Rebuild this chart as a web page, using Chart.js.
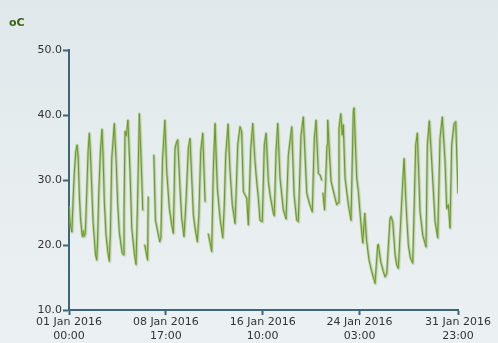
<!DOCTYPE html>
<html>
<head>
<meta charset="utf-8">
<script src="https://cdn.jsdelivr.net/npm/chart.js@4/dist/chart.umd.min.js"></script>
<style>
	html, body { margin: 0; padding: 0; }
	body { width: 498px; height: 343px; overflow: hidden; background: linear-gradient(to bottom, #e0e8eb 0%, #e8eef0 60%, #ebf0f2 100%); }
	canvas { display: block; }
</style>
</head>
<body>
<canvas id="grafico" width="498" height="343"></canvas>
<script>
/* Horas desde el 01 Jan 2016 00:00 y temperatura (oC); null = sin datos */
const horas = [
	0, 2, 5.5, 8, 10, 13, 15.3, 17.5, 19.7, 22,
	25.4, 27.5, 29, 31.1, 33.8, 36.5, 38.8, 41, 43.9, 46,
	48.3, 50.5, 52.9, 54.5, 56.7, 60, 63, 65, 67.4, 70.7,
	74, 77, 79, 81.6, 86.5, 89.8, 93, 96, 99.3, 101.5,
	103.7, 105, 107, 109.5, 112.5, 116.5, 119.8, 124.7, 128, 131,
	134.3, 137.5, 140.8, 142.5, 144.6, 150, 151.3, 155, 162, 165,
	170, 173.3, 175.5, 178.5, 183, 186.6, 191.6, 196.1, 199.2, 202.5,
	205.7, 207.6, 212, 215.2, 219.6, 223, 227.9, 231.1, 234, 237.5,
	240.7, 245.1, 248, 251.5, 255.4, 259.8, 263, 266.1, 272.5, 275.5,
	278.9, 283.3, 288.4, 293.6, 296.5, 299.3, 303.7, 307.5, 311.9, 317.1,
	322.2, 326.6, 329.8, 333, 336.2, 339.4, 342.5, 347.1, 350.9, 355,
	358.5, 361.6, 364.8, 369.2, 373, 376.3, 380.7, 383.9, 390.2, 392.1,
	395.4, 398.6, 403, 409.3, 414.5, 418.9, 425.4, 429.8, 434.9, 438,
	443.1, 447.5, 454, 459, 464.7, 468.5, 471.8, 476.2, 479.4, 482.5,
	484, 485, 488, 492.8, 494.1, 500.4, 506.7, 511.3, 514, 515.7,
	519, 522, 523.9, 527.2, 533.5, 538.6, 543, 544.4, 549.5, 552.6,
	557.2, 561, 564.8, 568.6, 573, 578.2, 584.5, 589.6, 590.8, 595.4,
	600.4, 603.6, 606.8, 613.1, 615, 618.3, 622.7, 625.9, 629, 637.4,
	639.9, 643.7, 648.1, 652, 656.5, 662.2, 665.3, 670.4, 675.6, 681.9,
	684.4, 688.2, 692.8, 699.1, 704.2, 708.6, 713, 718.2, 721.4, 724.5,
	727.7, 730.9, 735.4, 738.6, 743
];
const temperaturas = [
	25.8, 23.5, 22.0, 27.5, 31.0, 34.5, 35.4, 33.5, 27.7, 24.0,
	21.3, 22.2, 21.3, 21.8, 28.0, 34.5, 37.2, 34.0, 27.7, 23.5,
	21.0, 18.5, 17.7, 20.5, 27.7, 34.5, 37.8, 34.0, 26.7, 21.5,
	19.0, 17.5, 22.0, 33.3, 38.7, 33.3, 26.2, 22.0, 20.0, 18.8,
	18.5, 25.0, 37.5, 36.8, 39.2, 31.3, 22.6, 18.7, 17.0, 27.0,
	40.2, 33.8, 25.4, null, 20.0, 17.7, 27.4, null, 33.8, 23.8,
	21.8, 20.5, 21.2, 33.0, 39.2, 31.3, 25.6, 23.1, 21.8, 34.9,
	35.9, 36.2, 28.7, 24.1, 21.3, 26.0, 34.9, 36.4, 31.0, 24.6,
	22.6, 20.5, 24.5, 34.4, 37.2, 26.7, null, 21.7, 19.0, 31.3,
	38.7, 28.7, 24.1, 21.1, 26.0, 33.8, 38.6, 31.3, 26.2, 23.3,
	35.4, 38.2, 37.4, 28.2, 27.7, 27.2, 23.1, 34.9, 38.7, 33.0,
	29.7, 27.2, 23.8, 23.6, 35.4, 37.2, 29.8, 27.7, 24.9, 24.5,
	34.4, 38.7, 30.3, 25.4, 24.0, 33.8, 38.2, 27.7, 23.8, 23.6,
	36.9, 39.7, 28.0, 26.4, 25.1, 36.4, 39.2, 31.0, 30.8, 30.0,
	null, 28.0, 25.4, 35.4, 39.2, 29.8, 27.7, 26.2, 26.5, 38.0,
	40.2, 36.9, 38.5, 30.3, 26.2, 23.8, 40.5, 41.1, 30.3, 28.2,
	23.6, 20.3, 24.9, 20.5, 17.7, 15.9, 14.1, 20.0, 20.1, 17.4,
	15.9, 15.1, 15.6, 24.1, 24.4, 23.6, 18.5, 16.9, 16.4, 29.8,
	33.3, 26.2, 20.0, 18.0, 17.2, 35.4, 37.2, 25.1, 21.5, 19.7,
	35.4, 39.1, 32.8, 23.6, 21.1, 36.4, 39.7, 32.8, 25.6, 26.2,
	22.6, 35.4, 38.7, 39.0, 28.0
];
/* Marcas del eje X */
const marcasX = [0, 185, 370, 555, 743];
const etiquetasX = [
	['01 Jan 2016', '00:00'],
	['08 Jan 2016', '17:00'],
	['16 Jan 2016', '10:00'],
	['24 Jan 2016', '03:00'],
	['31 Jan 2016', '23:00']
];

const colorEje = '#3e6676';
const fuente = { family: 'DejaVu Sans', size: 11, lineHeight: 1.2 };

let puntos = [];
for (let i = 0; i < horas.length; i++) {
	puntos.push({ x: horas[i], y: temperaturas[i] });
}

/* sombra gris debajo del trazo claro */
const sombra = {
	id: 'sombra',
	beforeDatasetDraw(chart, args) {
		if (args.index === 1) {
			const ctx = chart.ctx;
			ctx.save();
			ctx.shadowColor = 'rgba(0,0,0,0.12)';
			ctx.shadowOffsetX = 1;
			ctx.shadowOffsetY = 1;
			ctx.shadowBlur = 0;
		}
	},
	afterDatasetDraw(chart, args) {
		if (args.index === 1) {
			chart.ctx.restore();
		}
	}
};

/* titulo de unidades arriba a la izquierda */
const unidades = {
	id: 'unidades',
	afterDraw(chart) {
		const ctx = chart.ctx;
		ctx.save();
		ctx.font = 'bold 11px "DejaVu Sans"';
		ctx.fillStyle = '#3c5f12';
		ctx.textBaseline = 'middle';
		ctx.fillText('oC', 9, 23.5);
		ctx.restore();
	}
};

const ctx = document.getElementById('grafico');
const grafico = new Chart(ctx, {
	type: 'line',
	data: {
		datasets: [{
			data: puntos,
			borderColor: '#6a9a1c',
			borderWidth: 1,
			borderJoinStyle: 'round',
			pointRadius: 0,
			tension: 0,
			spanGaps: false
		}, {
			data: puntos,
			borderColor: 'rgba(150,185,105,0.6)',
			borderWidth: 2.5,
			borderJoinStyle: 'round',
			borderCapStyle: 'round',
			pointRadius: 0,
			tension: 0,
			spanGaps: false
		}]
	},
	options: {
		responsive: false,
		animation: false,
		layout: { padding: { top: 50, right: 40, left: 0, bottom: 0 } },
		plugins: {
			legend: { display: false },
			tooltip: { enabled: false }
		},
		scales: {
			x: {
				type: 'linear',
				min: 0,
				max: 743,
				afterFit: function (scale) { scale.height = 33; },
				afterBuildTicks: function (scale) {
					scale.ticks = marcasX.map(v => ({ value: v }));
				},
				ticks: {
					autoSkip: false,
					maxRotation: 0,
					padding: 1,
					color: '#333',
					font: fuente,
					callback: function (value, index) { return etiquetasX[index]; }
				},
				grid: { drawOnChartArea: false, drawTicks: true, tickLength: 5, tickWidth: 2, tickColor: colorEje },
				border: { color: colorEje, width: 2 }
			},
			y: {
				min: 10,
				max: 50,
				afterFit: function (scale) { scale.width = 69; },
				ticks: {
					stepSize: 10,
					padding: 1,
					color: '#333',
					font: fuente,
					callback: function (value) { return value.toFixed(1); }
				},
				grid: { drawOnChartArea: false, drawTicks: true, tickLength: 6, tickWidth: 2, tickColor: colorEje },
				border: { color: colorEje, width: 2 }
			}
		}
	},
	plugins: [sombra, unidades]
});
</script>
</body>
</html>
